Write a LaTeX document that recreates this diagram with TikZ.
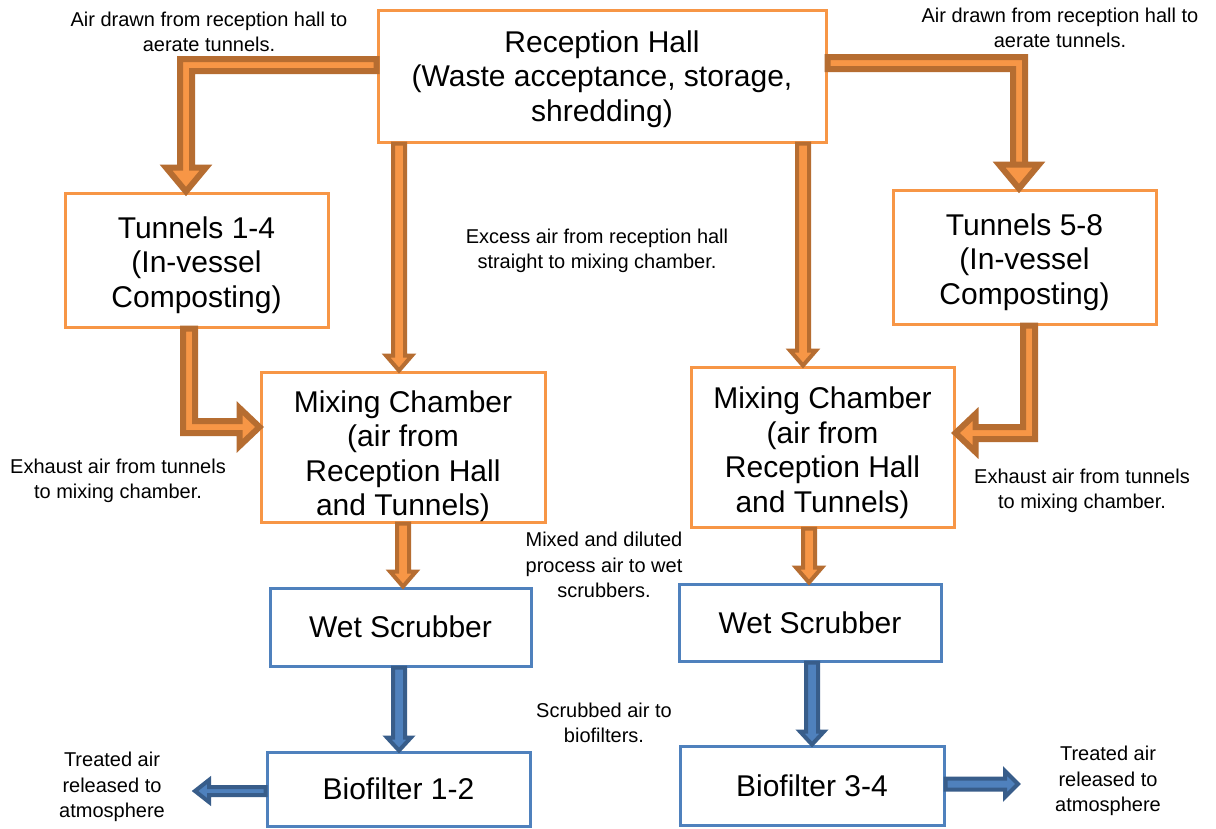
\documentclass[tikz,border=0pt]{standalone}
\usepackage{fontspec}
\setmainfont{Liberation Sans}
\usetikzlibrary{calc}
\definecolor{orF}{HTML}{F79646}
\definecolor{orD}{HTML}{B66D31}
\definecolor{blF}{HTML}{4F81BD}
\definecolor{blD}{HTML}{385D8A}
\newcommand\topfix[1]{\rule{0pt}{#1}}
% straight vertical (down) block arrow: start, tip, half shaft, half head, head length, style
\newcommand\arrV[6]{\filldraw[#6] let \p1=(#1), \p2=(#2) in
  ({\x1-(#3)},\y1) -- ({\x1-(#3)},{\y2+(#5)}) -- ({\x1-(#4)},{\y2+(#5)}) -- (\x1,\y2)
  -- ({\x1+(#4)},{\y2+(#5)}) -- ({\x1+(#3)},{\y2+(#5)}) -- ({\x1+(#3)},\y1) -- cycle;}
% straight horizontal block arrow: start, tip, half shaft, half head, signed head length (+ right), style
\newcommand\arrH[6]{\filldraw[#6] let \p1=(#1), \p2=(#2) in
  (\x1,{\y1+(#3)}) -- ({\x2-(#5)},{\y1+(#3)}) -- ({\x2-(#5)},{\y1+(#4)}) -- (\x2,\y1)
  -- ({\x2-(#5)},{\y1-(#4)}) -- ({\x2-(#5)},{\y1-(#3)}) -- (\x1,{\y1-(#3)}) -- cycle;}
% horizontal then down: start, tip, half shaft, signed half shaft (+ if going left), half head, head length, style
\newcommand\arrHD[7]{\filldraw[#7] let \p1=(#1), \p2=(#2) in
  (\x1,{\y1+(#3)}) -- ({\x2-(#4)},{\y1+(#3)}) -- ({\x2-(#4)},{\y2+(#6)}) -- ({\x2-(#5)},{\y2+(#6)})
  -- (\x2,\y2) -- ({\x2+(#5)},{\y2+(#6)}) -- ({\x2+(#4)},{\y2+(#6)}) -- ({\x2+(#4)},{\y1-(#3)})
  -- (\x1,{\y1-(#3)}) -- cycle;}
% down then horizontal: start, tip, half shaft, signed half shaft (+ if going right), half head, signed head length, style
\newcommand\arrDH[7]{\filldraw[#7] let \p1=(#1), \p2=(#2) in
  ({\x1-(#4)},\y1) -- ({\x1-(#4)},{\y2-(#3)}) -- ({\x2-(#6)},{\y2-(#3)}) -- ({\x2-(#6)},{\y2-(#5)})
  -- (\x2,\y2) -- ({\x2-(#6)},{\y2+(#5)}) -- ({\x2-(#6)},{\y2+(#3)}) -- ({\x1+(#4)},{\y2+(#3)})
  -- ({\x1+(#4)},\y1) -- cycle;}
\tikzset{
  obox/.style={draw=orF, line width=3pt, fill=white, inner sep=0pt, align=center,
    font=\fontsize{30}{34.5}\selectfont},
  bbox/.style={draw=blF, line width=3pt, fill=white, inner sep=0pt, align=center,
    font=\fontsize{30}{34.5}\selectfont},
  lbl/.style={inner sep=0pt, align=center, font=\fontsize{20}{25.5}\selectfont},
  othick/.style={fill=orF, draw=orD, line width=6pt, miter limit=10},
  othin/.style={fill=orF, draw=orD, line width=4pt},
  blar/.style={fill=blF, draw=blD, line width=4pt},
}
\begin{document}
\begin{tikzpicture}[x=1pt,y=-1pt]
\useasboundingbox[fill=white] (0,0) rectangle (1216,828);
% boxes
\node[obox, minimum width=448pt, minimum height=132pt] (rh) at (602,76)
  {\topfix{28pt}Reception Hall\\(Waste acceptance, storage,\\shredding)};
\node[obox, minimum width=263pt, minimum height=134pt] (t14) at (196.5,260)
  {\topfix{32pt}Tunnels 1-4\\(In-vessel\\Composting)};
\node[obox, minimum width=263pt, minimum height=134pt] (t58) at (1024.5,257)
  {\topfix{32pt}Tunnels 5-8\\(In-vessel\\Composting)};
\node[obox, minimum width=284pt, minimum height=150pt] (mcl) at (403,447)
  {\topfix{40pt}Mixing Chamber\\(air from\\Reception Hall\\and Tunnels)};
\node[obox, minimum width=263pt, minimum height=160pt] (mcr) at (822.5,447)
  {\topfix{33pt}Mixing Chamber\\(air from\\Reception Hall\\and Tunnels)};
\node[bbox, minimum width=261pt, minimum height=78pt] (wsl) at (400.5,627) {Wet Scrubber};
\node[bbox, minimum width=262pt, minimum height=77pt] (wsr) at (810,622.5) {Wet Scrubber};
\node[bbox, minimum width=263pt, minimum height=74pt] (bfl) at (398.5,789) {Biofilter 1-2};
\node[bbox, minimum width=264pt, minimum height=79pt] (bfr) at (812,785.5) {Biofilter 3-4};
% labels
\node[lbl] (la1) at (209,32) {Air drawn from reception hall to\\aerate tunnels.};
\node[lbl] (la2) at (1060,28) {Air drawn from reception hall to\\aerate tunnels.};
\node[lbl] (lex) at (597,251) {Excess air from reception hall\\straight to mixing chamber.};
\node[lbl] (le1) at (118,481) {Exhaust air from tunnels\\to mixing chamber.};
\node[lbl] (le2) at (1082,491) {Exhaust air from tunnels\\to mixing chamber.};
\node[lbl] (lmix) at (604,565) {Mixed and diluted\\process air to wet\\scrubbers.};
\node[lbl] (lscr) at (604,723) {Scrubbed air to\\biofilters.};
\node[lbl] (ltr1) at (112,787) {Treated air\\released to\\atmosphere};
\node[lbl] (ltr2) at (1108,781) {Treated air\\released to\\atmosphere};
% free ends
\coordinate (o1) at (195,791);
\coordinate (o2) at (1018,784);
% thick L arrows
\arrHD{rh.west |- 0,65}{t14.north -| 186,0}{6pt}{6pt}{20pt}{24pt}{othick}
\arrHD{rh.east |- 0,63}{t58.north -| 1019,0}{6pt}{-6pt}{20pt}{24pt}{othick}
\arrDH{t14.south -| 189,0}{mcl.west |- 0,427}{6pt}{6pt}{19pt}{20pt}{othick}
\arrDH{t58.south -| 1029,0}{mcr.east |- 0,433}{6pt}{-6pt}{19pt}{-20pt}{othick}
% thin orange arrows
\arrV{rh.south -| 399,0}{mcl.north -| 399,0}{6pt}{13pt}{15pt}{othin}
\arrV{rh.south -| 803,0}{mcr.north -| 803,0}{6pt}{13pt}{15pt}{othin}
\arrV{mcl.south -| 403,0}{wsl.north -| 403,0}{6pt}{13pt}{15pt}{othin}
\arrV{mcr.south -| 809,0}{wsr.north -| 809,0}{6pt}{13pt}{15pt}{othin}
% blue arrows
\arrV{wsl.south -| 399,0}{bfl.north -| 399,0}{6pt}{12pt}{13pt}{blar}
\arrV{wsr.south -| 812,0}{bfr.north -| 812,0}{6pt}{12pt}{13pt}{blar}
\arrH{bfl.west |- 0,791}{o1}{4pt}{11pt}{-14pt}{blar}
\arrH{bfr.east |- 0,784}{o2}{5.5pt}{13pt}{13pt}{blar}
\end{tikzpicture}
\end{document}
